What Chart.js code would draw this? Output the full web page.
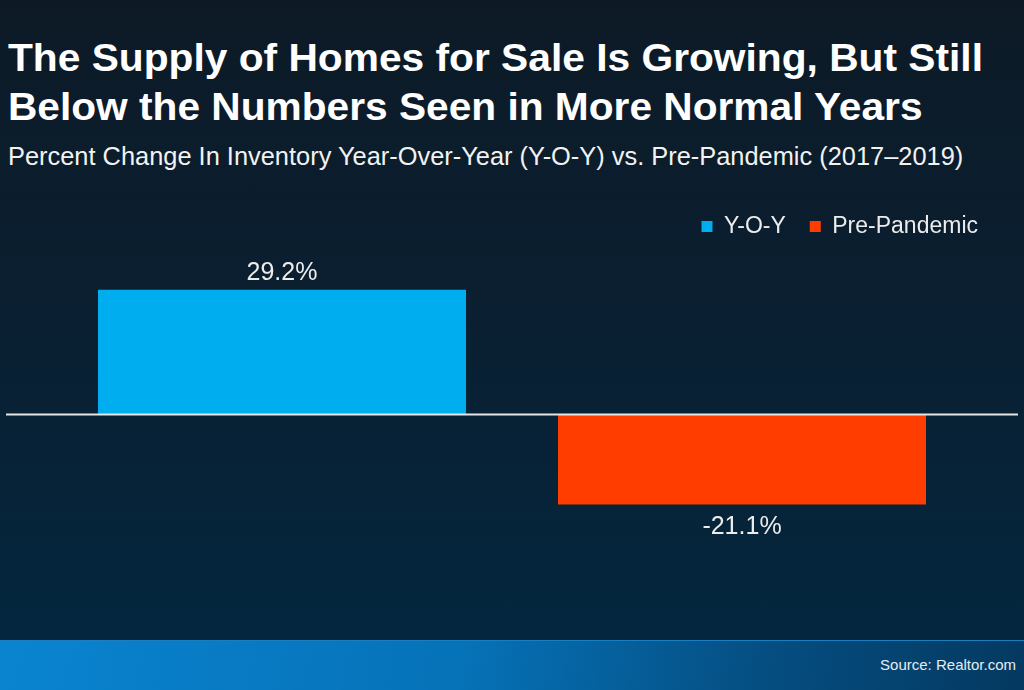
<!DOCTYPE html>
<html>
<head>
<meta charset="utf-8">
<script src="https://cdn.jsdelivr.net/npm/chart.js@4.4.0/dist/chart.umd.min.js"></script>
<style>
  html, body { margin: 0; padding: 0; }
  body {
    width: 1024px; height: 690px; position: relative; overflow: hidden;
    background: linear-gradient(180deg, #0d1a26 0%, #0a1f31 45%, #03273f 93%);
    font-family: 'Liberation Sans', Arial, sans-serif;
  }
  .title {
    position: absolute; left: 8px; color: #fff; font-weight: bold;
    font-size: 38px; white-space: nowrap; transform-origin: left top;
    line-height: 1;
  }
  .sub {
    position: absolute; left: 8px; top: 144px; color: #f2f2f2;
    font-size: 25px; white-space: nowrap; transform-origin: left top; line-height: 1;
  }
  #band {
    position: absolute; left: 0; top: 640px; width: 1024px; height: 50px;
    background: linear-gradient(100deg, #0a84d0 0%, #0672b8 45%, #054d80 75%, #043960 100%);
    border-top: 1px solid #1a7fc0;
  }
  #source {
    position: absolute; right: 8px; top: 656px; color: #e4ecf2; font-size: 15px;
  }
  #chartBox { position: absolute; left: 0; top: 190px; width: 1024px; height: 450px; }
</style>
</head>
<body>
<div class="title" id="t1" style="top:39px">The Supply of Homes for Sale Is Growing, But Still</div>
<div class="title" id="t2" style="top:88px">Below the Numbers Seen in More Normal Years</div>
<div class="sub" id="t3">Percent Change In Inventory Year-Over-Year (Y-O-Y) vs. Pre-Pandemic (2017–2019)</div>
<div id="chartBox"><canvas id="graph" width="1024" height="450"></canvas></div>
<div id="band"></div>
<div id="source">Source: Realtor.com</div>
<script>
// stretch the heading lines to the width they have in the picture
function fitWidth(id, w) {
  var el = document.getElementById(id);
  el.style.transform = 'scaleX(' + (w / el.offsetWidth) + ')';
}
fitWidth('t1', 975);
fitWidth('t2', 915);
fitWidth('t3', 955);

var categories = ['Y-O-Y', 'Pre-Pandemic'];
var yoyValues = [29.2, null];
var prePandemicValues = [null, -21.1];

// white line through zero, across the whole width
var zeroLine = {
  id: 'zeroLine',
  afterDatasetsDraw: function(chart) {
    var c = chart.ctx;
    var y = chart.scales.y.getPixelForValue(0);
    c.save();
    c.strokeStyle = '#e6e6e6';
    c.lineWidth = 2;
    c.beginPath();
    c.moveTo(6, y);
    c.lineTo(1018, y);
    c.stroke();
    c.restore();
  }
};

// value labels above / below the bars
var valueLabels = {
  id: 'valueLabels',
  afterDatasetsDraw: function(chart) {
    var c = chart.ctx;
    c.save();
    c.font = '25px "Liberation Sans", Arial, sans-serif';
    c.fillStyle = '#ececec';
    c.textAlign = 'center';
    c.textBaseline = 'alphabetic';
    chart.data.datasets.forEach(function(ds, i) {
      chart.getDatasetMeta(i).data.forEach(function(bar, j) {
        var v = ds.data[j];
        if (v === null) return;
        var y = v >= 0 ? bar.y - 10 : bar.y + 29;
        c.fillText(v.toFixed(1) + '%', bar.x, y);
      });
    });
    c.restore();
  }
};

var ctx = document.getElementById('graph');
var myChart = new Chart(ctx, {
  type: 'bar',
  data: {
    labels: categories,
    datasets: [{
      label: 'Y-O-Y',
      data: yoyValues,
      backgroundColor: '#00adef',
      skipNull: true
    }, {
      label: 'Pre-Pandemic',
      data: prePandemicValues,
      backgroundColor: '#ff3d00',
      skipNull: true
    }]
  },
  options: {
    responsive: false,
    animation: false,
    devicePixelRatio: 1,
    categoryPercentage: 0.8,
    barPercentage: 1,
    layout: {
      padding: { left: 52, right: 22, top: 1, bottom: 59 }
    },
    scales: {
      x: { display: false },
      y: {
        position: 'right',
        min: -39,
        max: 39,
        ticks: { display: false },
        grid: { display: false },
        border: { display: false },
        // empty strip on the right so the legend can sit further out than the bars
        afterFit: function(scale) { scale.width = 30; }
      }
    },
    plugins: {
      legend: {
        position: 'top',
        align: 'end',
        labels: {
          boxWidth: 11,
          boxHeight: 11,
          padding: 24,
          color: '#ececec',
          font: { size: 23, family: '"Liberation Sans", Arial, sans-serif' }
        }
      },
      tooltip: { enabled: false }
    }
  },
  plugins: [zeroLine, valueLabels]
});
</script>
</body>
</html>
